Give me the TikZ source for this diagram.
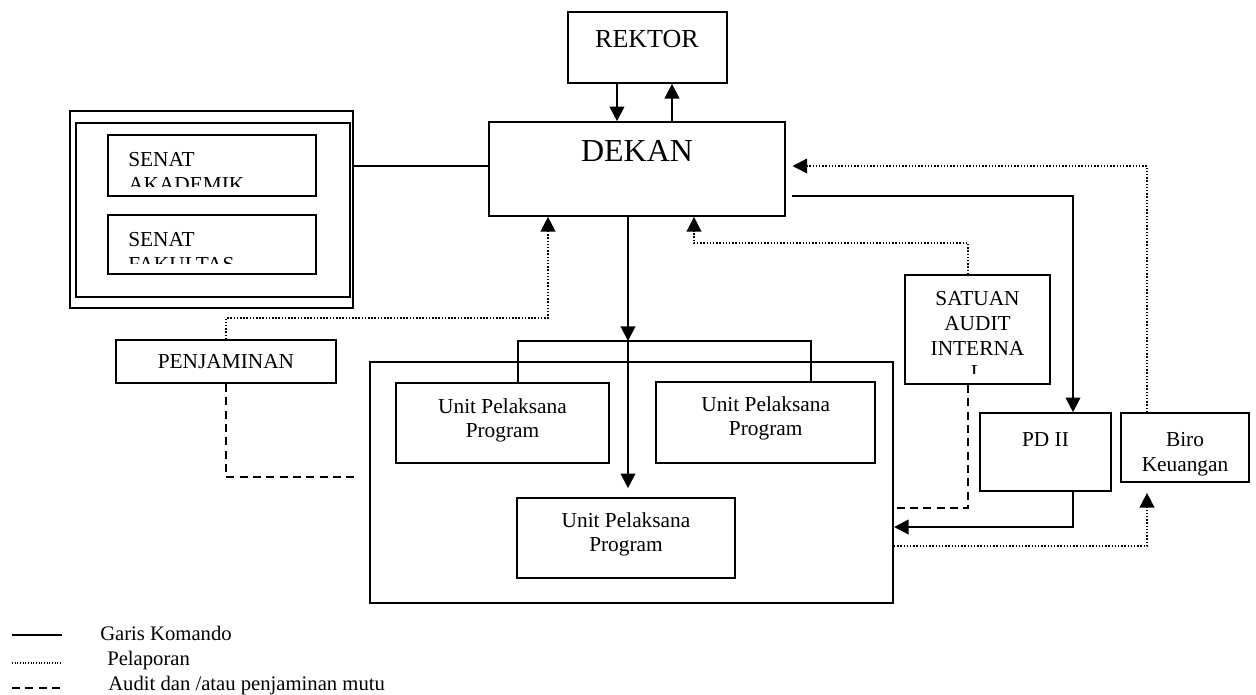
\documentclass[tikz,border=0pt]{standalone}
\usepackage{fontspec}
\setmainfont{Liberation Serif}
\usetikzlibrary{arrows.meta,fit}
\newcommand\fbase{\fontsize{16pt}{18.6pt}\selectfont}
\newcommand\frektor{\fontsize{19.5pt}{22pt}\selectfont}
\newcommand\fdekan{\fontsize{24pt}{28pt}\selectfont}
\newcommand\fleg{\fontsize{15.5pt}{18.6pt}\selectfont}
\tikzset{
  box/.style={draw, line width=1.25pt, inner sep=0pt},
  lbl/.style={inner sep=0pt, align=center, font=\fbase},
  cmd/.style={line width=1.55pt},
  rep/.style={line width=1.1pt, dash pattern=on 1.1pt off 1.3pt},
  aud/.style={line width=1.2pt, dash pattern=on 6pt off 4pt},
  tip/.style={-{Triangle[length=11pt,width=11pt]}},
}
\begin{document}
\begin{tikzpicture}[x=0.75pt,y=-0.75pt]
\useasboundingbox (0,0) rectangle (1256,694);
% REKTOR and DEKAN
\node[box, fit={(568,12)(727,83)}] (rektor) {};
\node[inner sep=0pt, font=\frektor, anchor=north] (rektorT) at (647,30) {REKTOR};
\node[box, fit={(489,122)(785,216)}] (dekan) {};
\node[inner sep=0pt, font=\fdekan, anchor=north] (dekanT) at (637,140) {DEKAN};
% Senat group
\node[draw, line width=0.8pt, inner sep=0pt, fit={(70,111)(353,308)}] (senat) {};
\node[draw, line width=1.9pt, inner sep=0pt, fit={(76,123)(350,297)}] (senatin) {};
\begin{scope}
\clip (108,135) rectangle (316,186);
\node[lbl, align=left, anchor=north west] (senakT) at (128,152) {SENAT\\AKADEMIK};
\end{scope}
\node[box, fit={(108,135)(316,196)}] (senak) {};
\begin{scope}
\clip (108,215) rectangle (316,263);
\node[lbl, align=left, anchor=north west] (senfT) at (128,232) {SENAT\\FAKULTAS};
\end{scope}
\node[box, fit={(108,215)(316,274)}] (senf) {};
% Penjaminan
\node[box, fit={(116,340)(336,383)}] (penj) {};
\node[lbl] (penjT) at (226,362) {PENJAMINAN};
% container and units
\node[draw, line width=1.5pt, inner sep=0pt, fit={(370,362)(893,603)}] (cont) {};
\node[box, fit={(396,383)(609,463)}] (u1) {};
\node[lbl, anchor=north] (u1T) at (502.5,398) {Unit Pelaksana\\Program};
\node[box, fit={(656,382)(875,463)}] (u2) {};
\node[lbl, anchor=north] (u2T) at (765.7,396) {Unit Pelaksana\\Program};
\node[box, fit={(517,498)(735,578)}] (u3) {};
\node[lbl, anchor=north] (u3T) at (626,512) {Unit Pelaksana\\Program};
% Satuan audit internal
\node[box, fit={(905,275)(1050,384)}] (sat) {};
\begin{scope}
\clip (905,275) rectangle (1050,373);
\node[lbl, anchor=north] (satT) at (977.5,291) {SATUAN\\AUDIT\\INTERNA\\L};
\end{scope}
% PD II and Biro
\node[box, fit={(980,413)(1111,491)}] (pd) {};
\node[lbl, anchor=north] (pdT) at (1045.5,432) {PD II};
\node[box, fit={(1121,413)(1249,482)}] (biro) {};
\node[lbl, anchor=north] (biroT) at (1185,432) {Biro\\Keuangan};
% helper coordinates
\coordinate (xa) at (617,0);
\coordinate (xb) at (672,0);
\coordinate (ya) at (0,166);
\coordinate (xc) at (628,0);
\coordinate (br) at (628,341);
\coordinate (bl) at (518,341);
\coordinate (brr) at (811,341);
\coordinate (pa) at (548,318);
\coordinate (pe) at (355,477);
\coordinate (sa) at (968,243);
\coordinate (sb) at (694,243);
\coordinate (sc) at (968,508);
\coordinate (da) at (1073,196);
\coordinate (pb) at (1073,527);
\coordinate (bb) at (1147,546);
\coordinate (bc) at (1147,166);
% command lines
\draw[cmd,tip] (rektor.south -| xa) -- (dekan.north -| xa);
\draw[cmd,tip] (dekan.north -| xb) -- (rektor.south -| xb);
\draw[cmd] (senat.east |- ya) -- (dekan.west |- ya);
\draw[cmd,tip] (dekan.south -| xc) -- (br);
\draw[cmd,tip,shorten >=6.75pt] (br) -- (u3.north -| xc);
\draw[cmd] (u1.north -| bl) -- (bl) -- (brr) -- (u2.north -| brr);
\draw[cmd,tip,shorten <=4.5pt] (dekan.east |- da) -- (da) -- (pd.north -| da);
\draw[cmd,tip] (pd.south -| pb) -- (pb) -- (cont.east |- pb);
% reporting lines
\draw[rep,tip] (penj.north) |- (pa) -- (dekan.south -| pa);
\draw[rep,tip] (sat.north -| sa) -- (sa) -- (sb) -- (dekan.south -| sb);
\draw[rep,tip,shorten >=7.5pt] (cont.east |- bb) -- (bb) -- (biro.south -| bb);
\draw[rep,tip,shorten >=5pt] (biro.north -| bc) -- (bc) -- (dekan.east |- bc);
% audit lines
\draw[aud] (penj.south) |- (pe);
\draw[aud] (sat.south -| sc) -- (sc) -- (cont.east |- sc);
% legend
\draw[cmd] (12,635) -- (62,635);
\draw[rep, line width=0.8pt, dash pattern=on 0.8pt off 1.2pt] (12,663) -- (62,663);
\draw[aud] (12,688) -- (62,688);
\node[font=\fleg, anchor=base west, inner sep=0pt] (lg1) at (100,640) {Garis Komando};
\node[font=\fleg, anchor=base west, inner sep=0pt] (lg2) at (107,665) {Pelaporan};
\node[font=\fleg, anchor=base west, inner sep=0pt] (lg3) at (108,690) {Audit dan /atau penjaminan mutu};
\end{tikzpicture}
\end{document}
